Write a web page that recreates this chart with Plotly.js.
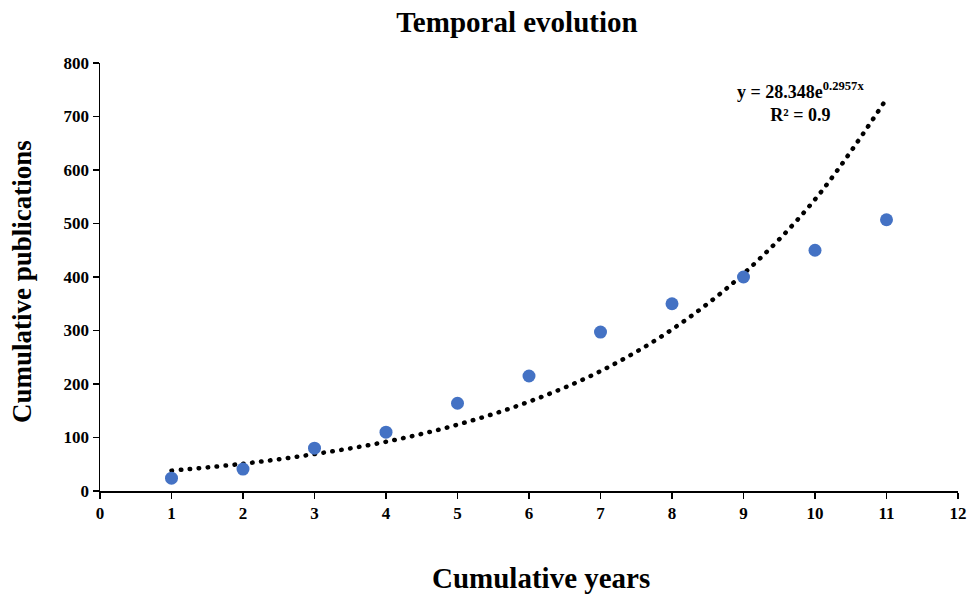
<!DOCTYPE html>
<html>
<head>
<meta charset="utf-8">
<script src="https://cdn.plot.ly/plotly-3.0.1.min.js"></script>
<style>html,body{margin:0;padding:0;background:#fff;}#chart{width:968px;height:595px;}
#chart .scatterlayer .trace:first-child .js-line{stroke-linecap:round !important;}</style>
</head>
<body>
<div id="chart"></div>
<script>
const years = [1, 2, 3, 4, 5, 6, 7, 8, 9, 10, 11];
const publications = [24, 41, 80, 110, 164, 215, 297, 350, 400, 450, 507];
const trendValues = [38, 51, 69, 92, 124, 167, 224, 302, 406, 545, 733];
const xTicks = [0, 1, 2, 3, 4, 5, 6, 7, 8, 9, 10, 11, 12];
const yTicks = [0, 100, 200, 300, 400, 500, 600, 700, 800];
const equationText = 'y = 28.348e<sup>0.2957x</sup><br>R² = 0.9';
const xTitle = 'Cumulative years';
const yTitle = 'Cumulative publications';

const font = 'Liberation Serif, Times New Roman, serif';

const traces = [
  {
    x: years, y: trendValues, mode: 'lines', type: 'scatter',
    line: {color: '#000', width: 4.5, dash: '0.5px,8.5px', shape: 'spline'},
    hoverinfo: 'skip', showlegend: false
  },
  {
    x: years, y: publications, mode: 'markers', type: 'scatter',
    marker: {color: '#4472C4', size: 13}, showlegend: false
  }
];

const layout = {
  width: 968, height: 595,
  margin: {l: 100, r: 10, t: 63, b: 104},
  paper_bgcolor: '#fff', plot_bgcolor: '#fff',
  font: {family: font, color: '#000'},
  title: {text: '<b>Temporal evolution</b>', font: {family: font, size: 29, color: '#000'}, x: 0.534, xanchor: 'center', y: 0.963, yanchor: 'middle'},
  xaxis: {
    range: [0, 12], tickvals: xTicks, ticktext: xTicks.map(v => '<b>' + v + '</b>'),
    showgrid: false, zeroline: false, showline: true, linecolor: '#000', linewidth: 1.5,
    ticks: 'outside', ticklen: 6, tickcolor: '#000', tickwidth: 1.5,
    tickfont: {family: font, size: 17, color: '#000'}
  },
  yaxis: {
    range: [0, 800], tickvals: yTicks, ticktext: yTicks.map(v => '<b>' + v + '</b>'),
    showgrid: false, zeroline: false, showline: true, linecolor: '#000', linewidth: 1.5,
    ticks: 'outside', ticklen: 6, tickcolor: '#000', tickwidth: 1.5,
    tickfont: {family: font, size: 17, color: '#000'}
  },
  annotations: [
    {
      x: 9.8, y: 727, xref: 'x', yref: 'y', showarrow: false,
      text: '<b>' + equationText + '</b>', align: 'center',
      font: {family: font, size: 18, color: '#000'}
    },
    {
      x: 541, y: 595 - 578, xref: 'paper', yref: 'paper', showarrow: false,
      text: '<b>' + xTitle + '</b>', xanchor: 'center', yanchor: 'middle',
      font: {family: font, size: 29, color: '#000'}
    },
    {
      x: 22, y: 595 - 282, xref: 'paper', yref: 'paper', showarrow: false, textangle: -90,
      text: '<b>' + yTitle + '</b>', xanchor: 'center', yanchor: 'middle',
      font: {family: font, size: 27, color: '#000'}
    }
  ]
};

// convert pixel positions of axis titles to paper coordinates
const pw = 968 - 100 - 10, ph = 595 - 63 - 104;
layout.annotations[1].x = (541 - 100) / pw;
layout.annotations[1].y = (595 - 578 - 104) / ph;
layout.annotations[2].x = (22 - 100) / pw;
layout.annotations[2].y = (595 - 282 - 104) / ph;

Plotly.newPlot('chart', traces, layout, {displayModeBar: false, staticPlot: true});
</script>
</body>
</html>
